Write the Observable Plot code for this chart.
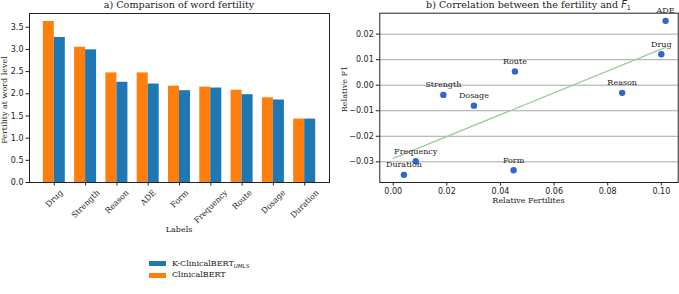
<!DOCTYPE html>
<html><head><meta charset="utf-8">
<script src="https://cdn.jsdelivr.net/npm/d3@7"></script>
<script src="https://cdn.jsdelivr.net/npm/@observablehq/plot@0.6"></script>
<style>
body{margin:0;background:#fff;}
#c{position:relative;width:679px;height:294px;overflow:hidden;font-family:"DejaVu Serif",serif;color:#222;}
.t{position:absolute;white-space:nowrap;line-height:1;transform:translate(-50%,-50%);}
.r{transform:translate(-50%,-50%) rotate(-90deg);}
.p{position:absolute;left:0;top:0;}
.sw{position:absolute;width:17px;height:5.5px;}
.lg{position:absolute;white-space:nowrap;font-size:8px;line-height:1;transform:translateY(-50%);}
</style></head><body><div id="c"></div>
<script>
// ---- panel a data ----
const labels = ["Drug","Strength","Reason","ADE","Form","Frequency","Route","Dosage","Duration"];
const clinicalBERT  = [3.63, 3.05, 2.47, 2.47, 2.17, 2.15, 2.08, 1.91, 1.43];
const kClinicalBERT = [3.27, 2.99, 2.26, 2.22, 2.07, 2.13, 1.98, 1.86, 1.43];
const yTicksA = [0, 0.5, 1, 1.5, 2, 2.5, 3, 3.5];

// ---- panel b data ----
const pointLabels  = ["ADE","Drug","Route","Strength","Dosage","Reason","Frequency","Duration","Form"];
const relFertility = [0.1016, 0.1000, 0.0454, 0.0187, 0.0301, 0.0854, 0.0084, 0.0040, 0.0449];
const relF1        = [0.0252, 0.0121, 0.0054, -0.0038, -0.0080, -0.0030, -0.0298, -0.0351, -0.0333];
const xTicksB = [0, 0.02, 0.04, 0.06, 0.08, 0.10];
const yTicksB = [-0.03, -0.02, -0.01, 0, 0.01, 0.02];

const ORANGE = "#ff7f0e", BLUE = "#1f77b4";
const SERIF = "DejaVu Serif", SANS = "DejaVu Sans";

const barsA = labels.map((l, i) => ({label: l, clinical: clinicalBERT[i], k: kClinicalBERT[i]}));
const pts = pointLabels.map((l, i) => ({label: l, x: relFertility[i], y: relF1[i]}));

// regression line from the points
const mx = d3.mean(pts, d => d.x), my = d3.mean(pts, d => d.y);
const slope = d3.sum(pts, d => (d.x - mx) * (d.y - my)) / d3.sum(pts, d => (d.x - mx) ** 2);
const icpt = my - slope * mx;
const xMax = d3.max(pts, d => d.x);
const reg = [0, xMax].map(x => ({x, y: icpt + slope * x}));

// measure rotated label extents
const ctx = document.createElement("canvas").getContext("2d");
ctx.font = "8px 'DejaVu Serif'";

const c = document.getElementById("c");

const labelMarks = labels.map(l => {
  const w = ctx.measureText(l).width;
  return Plot.text([l], {x: d => d, text: d => d, frameAnchor: "bottom", rotate: -45,
    textAnchor: "middle", lineAnchor: "middle", dy: 6 + (w + 8) * 0.3536,
    fontSize: 8, fontFamily: SERIF, fill: "#222"});
});

const plotA = Plot.plot({
  width: 340, height: 240,
  marginLeft: 29, marginRight: 11, marginTop: 13, marginBottom: 58,
  style: {fontFamily: SANS, fontSize: "8px", color: "#222", background: "transparent", overflow: "visible"},
  x: {domain: labels, paddingInner: 0.297, paddingOuter: 0.441, round: false, axis: null},
  y: {domain: [0, 3.81], axis: null},
  marks: [
    Plot.barY(barsA, {x: "label", y: "clinical", fill: ORANGE, insetRight: 11}),
    Plot.barY(barsA, {x: "label", y: "k", fill: BLUE, insetLeft: 11}),
    Plot.frame({stroke: "#222", strokeWidth: 1}),
    Plot.axisY({ticks: yTicksA, tickFormat: d3.format(".1f"), tickSize: 3.5, tickPadding: 2.5, label: null, fontSize: 8, fontFamily: SANS}),
    Plot.axisX({tickSize: 3.5, tickFormat: () => "", label: null}),
    ...labelMarks
  ]
});
plotA.classList.add("p");
c.appendChild(plotA);

const plotB = Plot.plot({
  width: 339, height: 212,
  marginLeft: 39.3, marginRight: 1.3, marginTop: 12.7, marginBottom: 30,
  style: {fontFamily: SANS, fontSize: "8px", color: "#222", background: "transparent", overflow: "visible"},
  x: {domain: [-0.005, 0.1063], axis: null},
  y: {domain: [-0.0381, 0.0282], axis: null},
  marks: [
    Plot.gridY(yTicksB, {stroke: "#a8a8a8", strokeOpacity: 1, strokeWidth: 1}),
    Plot.line(reg, {x: "x", y: "y", stroke: "#99cc99", strokeWidth: 1.3}),
    Plot.dot(pts, {x: "x", y: "y", r: 3.2, fill: "#3366cc"}),
    Plot.text(pts, {x: "x", y: "y", text: "label", dy: -10, fontSize: 8, fontFamily: SERIF, fill: "#222"}),
    Plot.frame({stroke: "#222", strokeWidth: 1}),
    Plot.axisY({ticks: yTicksB, tickFormat: d3.format(".2f"), tickSize: 3.5, tickPadding: 2.5, label: null, fontSize: 8, fontFamily: SANS}),
    Plot.axisX({ticks: xTicksB, tickFormat: d3.format(".2f"), tickSize: 3.5, tickPadding: 2.5, label: null, fontSize: 8, fontFamily: SANS})
  ]
});
plotB.classList.add("p");
plotB.style.left = "340px";
c.appendChild(plotB);

function addText(html, x, y, size, cls) {
  const d = document.createElement("div");
  d.className = "t" + (cls ? " " + cls : "");
  d.style.left = x + "px"; d.style.top = y + "px"; d.style.fontSize = size + "px";
  d.innerHTML = html;
  c.appendChild(d);
}
addText("a) Comparison of word fertility", 179, 5, 9.6);
addText('b) Correlation between the fertility and <span style="font-family:\'DejaVu Sans\';font-style:italic">F</span><span style="font-family:\'DejaVu Sans\';font-size:6.5px;position:relative;top:2px">1</span>', 528.5, 5, 9.6);
addText("Labels", 179, 230, 8);
addText("Relative Fertilites", 528.5, 201, 8);
addText("Fertility at word level", 5, 100, 8, "r");
addText("Relative F1", 344.5, 89, 8, "r");

// legend
const legendItems = [
  {color: BLUE, html: 'K-ClinicalBERT<span style="font-family:\'DejaVu Sans\';font-style:italic;font-size:5.5px;position:relative;top:2px">UMLS</span>', y: 263.5},
  {color: ORANGE, html: "ClinicalBERT", y: 275.3}
];
legendItems.forEach(it => {
  const s = document.createElement("div");
  s.className = "sw"; s.style.background = it.color;
  s.style.left = "149px"; s.style.top = (it.y - 2.75) + "px";
  c.appendChild(s);
  const t = document.createElement("div");
  t.className = "lg"; t.style.left = "172px"; t.style.top = it.y + "px";
  t.innerHTML = it.html;
  c.appendChild(t);
});
</script>
</body></html>
